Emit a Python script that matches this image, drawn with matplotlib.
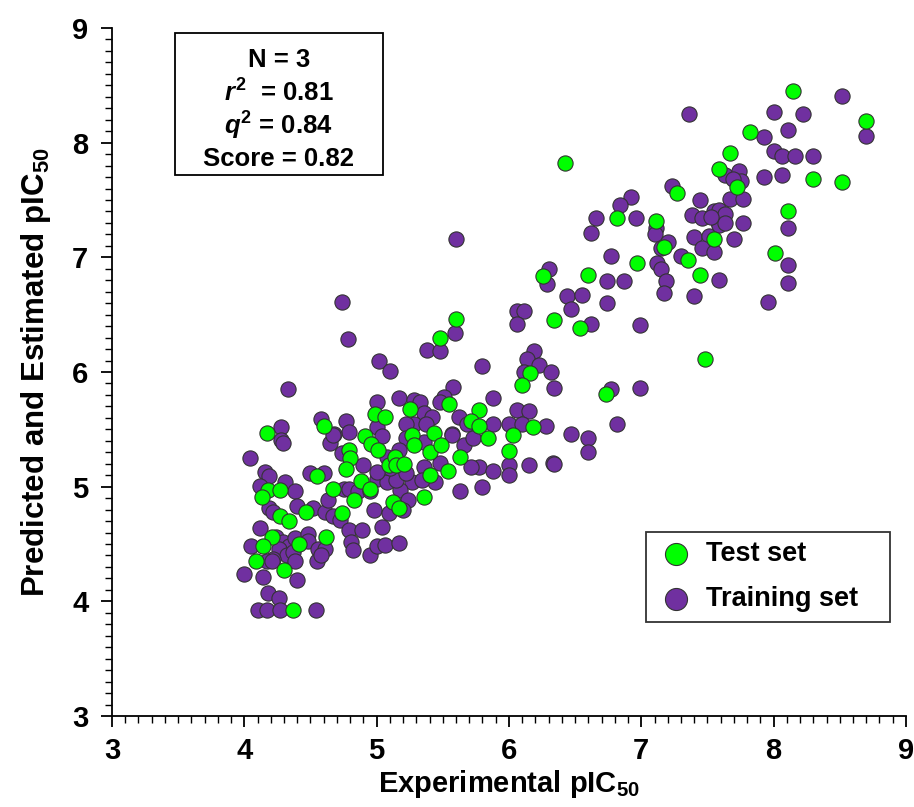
import matplotlib
matplotlib.use('Agg')
import matplotlib.pyplot as plt
from matplotlib.ticker import MultipleLocator
from matplotlib.patches import Rectangle

plt.rcParams['font.family'] = ['Liberation Sans', 'DejaVu Sans']
plt.rcParams['font.weight'] = 'bold'
plt.rcParams['mathtext.fontset'] = 'custom'
plt.rcParams['mathtext.rm'] = 'Liberation Sans:bold'
plt.rcParams['mathtext.it'] = 'Liberation Sans:italic:bold'
plt.rcParams['mathtext.bf'] = 'Liberation Sans:bold'

# Test set (green) - experimental vs predicted
test_x = [4.17, 4.99, 5.06, 4.60, 4.91, 4.79, 4.80, 4.77, 4.96, 5.01, 5.09, 5.14, 5.15,
          4.55, 4.18, 4.27, 4.13, 4.47, 4.27, 4.34, 4.67, 4.83, 4.88, 4.95, 4.74, 5.12,
          5.17, 4.21, 4.14, 4.41, 4.62, 4.09, 4.30, 4.37, 6.26, 6.34, 5.60, 5.48, 6.16,
          6.10, 5.55, 5.25, 5.77, 5.71, 5.77, 6.18, 6.03, 5.84, 5.43, 5.27, 6.00, 5.63,
          5.54, 5.40, 5.40, 5.49, 5.28, 5.21, 5.36, 6.42, 7.59, 7.27, 6.82, 7.11, 7.17,
          7.55, 7.35, 6.97, 7.44, 6.60, 6.54, 7.48, 6.73, 8.15, 8.70, 7.82, 7.67, 7.72,
          8.30, 8.52, 8.11, 8.01]
test_y = [5.47, 5.63, 5.61, 5.53, 5.44, 5.32, 5.25, 5.15, 5.37, 5.32, 5.19, 5.26, 5.19,
          5.09, 4.97, 4.97, 4.91, 4.78, 4.74, 4.70, 4.98, 4.88, 5.05, 4.98, 4.77, 4.87,
          4.81, 4.56, 4.48, 4.50, 4.56, 4.35, 4.27, 3.92, 6.84, 6.45, 6.46, 6.30, 5.99,
          5.89, 5.72, 5.68, 5.67, 5.57, 5.53, 5.52, 5.45, 5.42, 5.47, 5.45, 5.31, 5.26,
          5.14, 5.10, 5.30, 5.36, 5.36, 5.20, 4.91, 7.82, 7.77, 7.56, 7.34, 7.32, 7.09,
          7.16, 6.98, 6.95, 6.85, 6.85, 6.38, 6.11, 5.81, 8.45, 8.19, 8.09, 7.91, 7.61,
          7.68, 7.66, 7.40, 7.04]

# Training set (purple)
train_x = [4.74, 4.78, 5.02, 5.10, 4.33, 5.00, 5.17, 4.58, 4.77, 4.79, 4.28, 4.68, 5.00,
           4.28, 4.29, 4.04, 4.65, 4.74, 4.90, 4.16, 4.19, 4.50, 4.60, 4.12, 4.31, 4.38,
           4.19, 4.22, 4.40, 4.52, 4.61, 4.63, 4.75, 4.79, 4.86, 4.95, 5.00, 5.08, 4.98,
           4.67, 4.72, 5.09, 4.12, 4.05, 4.24, 4.29, 4.34, 4.26, 4.32, 4.22, 4.38, 4.37,
           4.38, 4.48, 4.48, 4.56, 4.61, 4.55, 4.58, 4.17, 4.21, 4.00, 4.14, 4.40, 4.18,
           4.26, 4.10, 4.17, 4.27, 4.54, 4.79, 4.89, 4.81, 4.82, 4.95, 5.00, 5.04, 5.06,
           5.17, 6.29, 6.30, 6.06, 6.11, 6.06, 5.59, 5.38, 5.48, 5.80, 6.19, 6.14, 6.23,
           6.11, 6.32, 6.34, 5.58, 5.88, 5.51, 5.48, 5.28, 5.33, 5.62, 5.68, 5.88, 6.00,
           6.06, 6.15, 6.10, 6.28, 5.36, 5.42, 5.28, 5.22, 5.37, 5.57, 6.00, 6.00, 6.15,
           6.33, 5.77, 5.88, 5.71, 5.80, 5.63, 5.48, 5.44, 5.27, 5.18, 5.24, 5.20, 5.15,
           5.66, 5.73, 5.57, 5.36, 5.22, 5.36, 5.34, 5.22, 5.10, 5.08, 5.00, 5.17, 5.04,
           4.67, 5.60, 7.23, 7.44, 6.92, 6.84, 6.66, 6.96, 7.11, 7.10, 7.38, 7.46, 7.55,
           7.59, 7.58, 6.62, 7.20, 7.15, 7.40, 7.51, 7.46, 7.55, 7.59, 7.30, 6.77, 7.12,
           7.15, 7.19, 7.17, 7.40, 7.59, 6.74, 6.87, 6.44, 6.55, 6.47, 6.74, 6.62, 6.99,
           6.77, 6.99, 6.82, 6.47, 6.60, 6.60, 6.34, 8.52, 8.70, 8.00, 8.22, 8.11, 7.93,
           8.00, 8.06, 8.16, 8.30, 7.63, 7.74, 7.75, 7.69, 7.93, 8.06, 7.67, 7.77, 7.63,
           7.63, 7.53, 7.77, 8.11, 7.70, 8.11, 8.11, 7.96, 7.36]
train_y = [6.61, 6.29, 6.10, 6.01, 5.85, 5.74, 5.77, 5.59, 5.57, 5.48, 5.52, 5.46, 5.52,
           5.41, 5.38, 5.25, 5.38, 5.29, 5.19, 5.13, 5.09, 5.12, 5.12, 5.01, 5.04, 4.96,
           4.81, 4.78, 4.83, 4.81, 4.78, 4.88, 4.98, 4.98, 4.96, 4.96, 5.07, 5.04, 4.80,
           4.74, 4.71, 4.77, 4.64, 4.48, 4.56, 4.52, 4.48, 4.46, 4.40, 4.37, 4.55, 4.43,
           4.35, 4.59, 4.53, 4.46, 4.46, 4.35, 4.40, 4.35, 4.35, 4.24, 4.21, 4.19, 4.07,
           4.03, 3.92, 3.92, 3.92, 3.92, 4.62, 4.62, 4.52, 4.45, 4.40, 4.48, 4.65, 4.49,
           4.51, 6.77, 6.90, 6.53, 6.53, 6.42, 6.34, 6.19, 6.18, 6.05, 6.18, 6.11, 6.06,
           6.00, 6.00, 5.86, 5.87, 5.77, 5.78, 5.74, 5.76, 5.74, 5.61, 5.55, 5.55, 5.55,
           5.67, 5.66, 5.55, 5.53, 5.64, 5.61, 5.55, 5.55, 5.55, 5.46, 5.19, 5.10, 5.19,
           5.21, 5.17, 5.14, 5.17, 5.00, 4.96, 5.21, 5.04, 5.04, 4.97, 4.88, 4.80, 5.06,
           5.36, 5.42, 5.45, 5.39, 5.42, 5.17, 5.06, 5.12, 5.16, 5.26, 5.13, 5.32, 5.44,
           5.45, 7.16, 7.62, 7.50, 7.53, 7.46, 7.34, 7.34, 7.26, 7.20, 7.37, 7.34, 7.40,
           7.41, 7.31, 7.21, 7.13, 7.08, 7.18, 7.19, 7.08, 7.05, 7.28, 7.01, 7.01, 6.95,
           6.90, 6.79, 6.69, 6.66, 6.80, 6.79, 6.79, 6.66, 6.67, 6.55, 6.60, 6.42, 6.41,
           5.85, 5.86, 5.55, 5.46, 5.42, 5.30, 5.20, 8.41, 8.06, 8.27, 8.25, 8.11, 8.05,
           7.93, 7.88, 7.88, 7.88, 7.72, 7.75, 7.67, 7.68, 7.70, 7.72, 7.51, 7.51, 7.38,
           7.30, 7.35, 7.30, 7.26, 7.16, 6.93, 6.78, 6.61, 8.25]

stats_lines = ['N = 3', '$\\mathit{r}^{2}$  = 0.81', '$\\mathit{q}^{2}$ = 0.84', 'Score = 0.82']

fig = plt.figure(figsize=(9.14, 8.07), dpi=100)
ax = fig.add_axes([0.1225, 0.1128, 0.8687, 0.8525])

ax.scatter(train_x, train_y, s=120, c='#7030A0', edgecolors='#333333', linewidths=0.8,
           label='Training set', zorder=2)
ax.scatter(test_x, test_y, s=120, c='#00FF00', edgecolors='#333333', linewidths=0.8,
           label='Test set', zorder=3)

ax.set_xlim(3, 9)
ax.set_ylim(3, 9)
ax.xaxis.set_major_locator(MultipleLocator(1))
ax.yaxis.set_major_locator(MultipleLocator(1))
ax.xaxis.set_minor_locator(MultipleLocator(0.1))
ax.yaxis.set_minor_locator(MultipleLocator(0.1))
ax.tick_params(which='major', direction='out', length=8, width=1.3, labelsize=21, pad=9)
ax.tick_params(axis='x', which='major', pad=7)
ax.tick_params(which='minor', direction='out', length=5, width=1.0)
for lbl in ax.get_xticklabels() + ax.get_yticklabels():
    lbl.set_fontweight('bold')
ax.spines['top'].set_visible(False)
ax.spines['right'].set_visible(False)
ax.spines['left'].set_linewidth(1.3)
ax.spines['bottom'].set_linewidth(1.3)

ax.set_xlabel('Experimental pIC$_{50}$', fontsize=21, fontweight='bold', labelpad=2)
ax.set_ylabel('Predicted and Estimated pIC$_{50}$', fontsize=22.5, fontweight='bold', labelpad=14)

# stats box
ax.add_patch(Rectangle((0.079, 0.786), 0.262, 0.207, transform=ax.transAxes,
                       fill=False, edgecolor='black', linewidth=1.3, zorder=4))
for i, line in enumerate(stats_lines):
    ax.text(0.210, 0.954 - i * 0.048, line, transform=ax.transAxes, ha='center',
            va='center', fontsize=18.5, fontweight='bold', zorder=5)

handles, labels = ax.get_legend_handles_labels()
leg = ax.legend(handles[::-1], [l + '   ' for l in labels[::-1]], loc='lower right',
                bbox_to_anchor=(0.98, 0.137),
                frameon=True, fancybox=False, edgecolor='black', markerscale=1.45,
                prop={'size': 19.5, 'weight': 'bold'}, handletextpad=0.35,
                borderpad=0.35, labelspacing=0.7, borderaxespad=0, handlelength=1.5)
leg.get_frame().set_linewidth(1.3)

fig.savefig('out.png', dpi=100)
